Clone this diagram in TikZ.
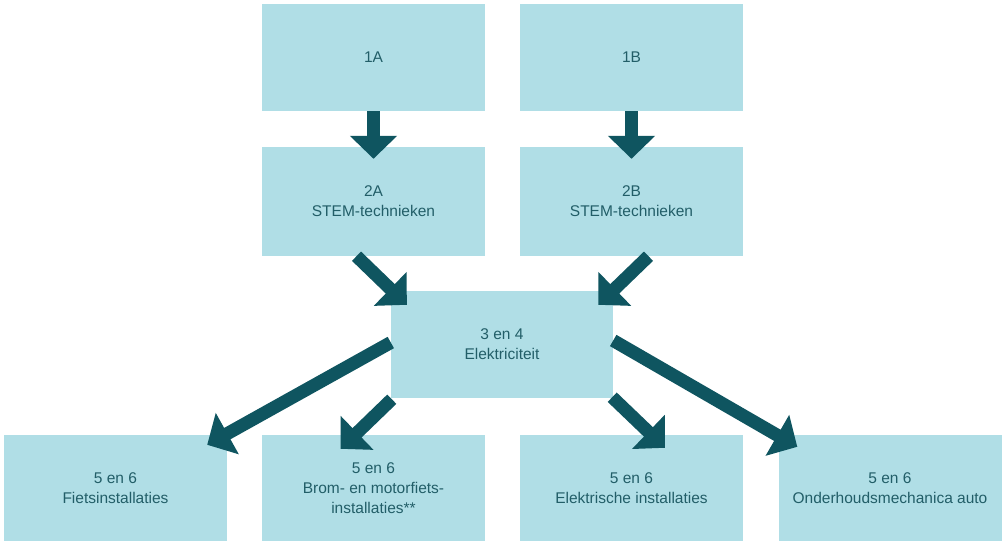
\documentclass[tikz,border=0pt]{standalone}
\usepackage{fontspec}
\setmainfont{Liberation Sans}
\usetikzlibrary{arrows.meta,calc}
\definecolor{boxfill}{HTML}{B0DEE6}
\definecolor{arrowcol}{HTML}{0F5560}
\definecolor{textcol}{HTML}{225E68}
\begin{document}
\begin{tikzpicture}[x=1pt,y=-1pt,
  box/.style={fill=boxfill,draw=none,minimum width=223pt,minimum height=107pt,
    inner sep=0pt,align=center,text=textcol,
    font=\fontsize{15.5pt}{20pt}\selectfont},
  flow/.style={draw=arrowcol,line width=13pt,
    -{Triangle[width=46pt,length=23pt]}}]
\useasboundingbox (0,0) rectangle (1003,541);
\node[box] (b1a) at (373.5,57.5) {1A};
\node[box] (b1b) at (631.5,57.5) {1B};
\node[box,minimum height=109pt] (b2a) at (373.5,201.5) {2A\\STEM-technieken};
\node[box,minimum height=109pt] (b2b) at (631.5,201.5) {2B\\STEM-technieken};
\node[box,minimum width=222pt] (b3) at (502,344.5) {3 en 4\\Elektriciteit};
\node[box,minimum height=106pt] (b5a) at (115.5,488) {5 en 6\\Fietsinstallaties};
\node[box,minimum height=106pt] (b5b) at (373.5,488) {5 en 6\\Brom- en motorfiets-\\installaties**};
\node[box,minimum height=106pt] (b5c) at (631.5,488) {5 en 6\\Elektrische installaties};
\node[box,minimum height=106pt] (b5d) at (890,488) {5 en 6\\Onderhoudsmechanica auto};
\draw[flow] (b1a.south) -- ($(b2a.north)+(0,12)$);
\draw[flow] (b1b.south) -- ($(b2b.north)+(0,12)$);
\draw[flow] ($(b2a.south)+(-17,0)$) -- ($(b3.north west)+(16,14)$);
\draw[flow] ($(b2b.south)+(17,0)$) -- ($(b3.north east)+(-15,14)$);
\draw[flow] ($(b3.west)+(0,-2)$) -- ($(b5a.north east)+(-20,10)$);
\draw[flow] ($(b3.south west)+(1,1)$) -- ($(b5b.north)+(-33,14)$);
\draw[flow] ($(b3.south east)+(-1,-1)$) -- ($(b5c.north)+(33.5,13)$);
\draw[flow] ($(b3.east)+(0,-4)$) -- ($(b5d.north west)+(19,12)$);
\end{tikzpicture}
\end{document}
